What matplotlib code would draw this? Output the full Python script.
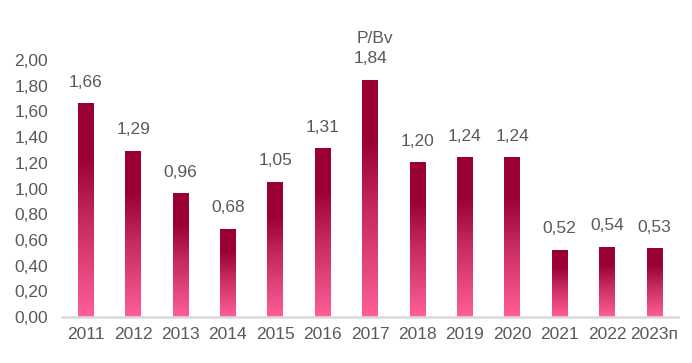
import matplotlib.pyplot as plt
import numpy as np
from matplotlib.colors import LinearSegmentedColormap
from matplotlib import font_manager

years = ['2011', '2012', '2013', '2014', '2015', '2016', '2017',
         '2018', '2019', '2020', '2021', '2022', '2023п']
pbv = [1.66, 1.29, 0.96, 0.68, 1.05, 1.31, 1.84, 1.20, 1.24, 1.24, 0.52, 0.54, 0.53]
yticks = [0.0, 0.2, 0.4, 0.6, 0.8, 1.0, 1.2, 1.4, 1.6, 1.8, 2.0]

names = {f.name for f in font_manager.fontManager.ttflist}
fam = ['Liberation Sans Narrow', 'DejaVu Sans'] if 'Liberation Sans Narrow' in names else ['Liberation Sans', 'DejaVu Sans']
plt.rcParams['font.family'] = fam

txt = '#595959'
cmap = LinearSegmentedColormap.from_list('g', [(0, '#ff5e99'), (0.45, '#c62a5e'), (0.75, '#9a0036'), (1, '#9a0036')])

fig = plt.figure(figsize=(6.92, 3.63), dpi=100)
ax = fig.add_axes([0.0896, 0.1267, 0.8904, 0.708])

x = np.arange(len(years))
w = 0.33
bars = ax.bar(x, pbv, width=w, color='none', zorder=2)
grad = np.linspace(0, 1, 256).reshape(-1, 1)
for b in bars:
    x0, y0 = b.get_x(), b.get_y()
    ax.imshow(grad, cmap=cmap, origin='lower', aspect='auto',
              extent=[x0, x0 + b.get_width(), y0, y0 + b.get_height()], zorder=2)

for xi, v in zip(x, pbv):
    ax.text(xi, v + 0.11, f'{v:.2f}'.replace('.', ','), ha='center', va='bottom',
            fontsize=12.5, color=txt)

ax.set_xlim(-0.5, len(years) - 0.5)
ax.set_ylim(0, 2.0)
ax.set_xticks(x)
ax.set_xticklabels(years)
ax.set_yticks(yticks)
ax.set_yticklabels([f'{t:.2f}'.replace('.', ',') for t in yticks])
ax.tick_params(length=0, labelsize=12.5, labelcolor=txt)
ax.tick_params(axis='x', pad=7)
ax.tick_params(axis='y', pad=10)
for s in ['top', 'right', 'left']:
    ax.spines[s].set_visible(False)
ax.spines['bottom'].set_color('#d9d9d9')
ax.spines['bottom'].set_linewidth(1.8)
ax.spines['bottom'].set_zorder(3)

fig.text(0.542, 0.893, 'P/Bv', ha='center', va='center', fontsize=12.5, color=txt)

fig.savefig('out.png', dpi=100)
